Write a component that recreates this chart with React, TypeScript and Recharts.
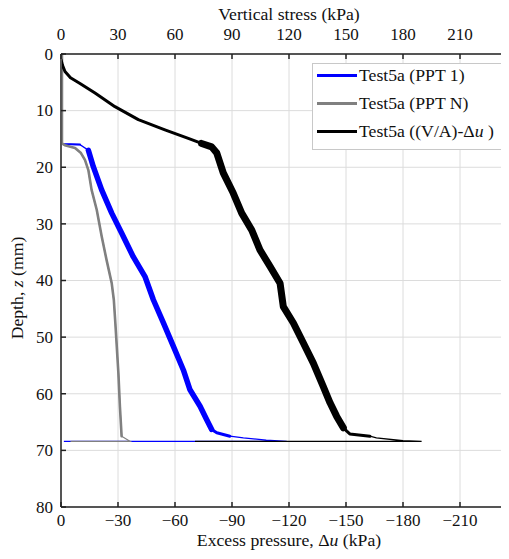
import React from 'react';
import { ComposedChart, Line, XAxis, YAxis, CartesianGrid } from 'recharts';

// ---- tick values ----
const DEPTH_TICKS = [0, 10, 20, 30, 40, 50, 60, 70, 80];
const STRESS_TICKS = [0, 30, 60, 90, 120, 150, 180, 210];

// ---- Test5a (PPT 1): depth z (mm) and |Δu| (kPa) ----
const PPT1_Z = [12.8, 15.9, 16.0, 17.0, 19.9, 24.0, 28.1, 31.6, 35.8, 39.3, 43.4, 47.5, 51.6, 55.8, 59.3, 62.2, 64.6, 66.3, 66.9, 67.5, 67.8, 68.2, 68.4, 68.4];
const PPT1_P = [0, 0, 10, 14.4, 17.0, 21.4, 26.7, 31.9, 38.0, 44.2, 48.6, 53.9, 59.1, 64.4, 67.9, 73.2, 76.7, 79.3, 82.0, 88.9, 96.0, 108.0, 118.8, 1.5];

// ---- Test5a (PPT N) ----
const PPTN_Z = [0, 8, 15.8, 16.1, 16.6, 17.5, 18.7, 20.5, 24.0, 27.5, 32.2, 36.4, 40.5, 43.4, 47.5, 56.3, 62.2, 67.5, 68.4, 68.4];
const PPTN_P = [0.5, 0.5, 0.5, 2.0, 7.4, 10.5, 12.6, 14.4, 16.1, 18.8, 21.4, 24.0, 26.7, 27.8, 28.6, 30.2, 31.0, 31.9, 36.3, 5.0];

// ---- Test5a ((V/A)-Δu) ----
const VA_Z = [1.0, 2.0, 3.1, 4.2, 5.2, 6.9, 9.3, 11.6, 13.4, 14.9, 15.8, 16.4, 17.5, 21.0, 24.6, 28.1, 31.1, 34.6, 37.5, 40.5, 44.6, 47.5, 51.0, 54.6, 58.7, 61.6, 64.0, 66.0, 66.6, 67.1, 67.5, 67.8, 68.3, 68.4, 68.4];
const VA_P = [0, 0.8, 2.1, 5.0, 10.0, 17.9, 28.4, 40.7, 54.7, 67.0, 74.0, 79.3, 82.0, 85.4, 90.7, 95.1, 100.4, 104.7, 110.0, 115.3, 117.0, 122.3, 127.5, 132.8, 138.0, 141.6, 145.1, 148.6, 150.4, 152.0, 162.6, 166.0, 180.0, 189.8, 70.5];

const toPoints = (z: number[], p: number[]) => z.map((zz, i) => ({ z: zz, p: p[i] }));

// thick overlays (index ranges) emulate the noisy, wide traces
const SERIES = [
  { name: 'Test5a (PPT 1)', color: '#0000ff', data: toPoints(PPT1_Z, PPT1_P), overlays: [{ from: 0, to: 3, width: 2 }, { from: 3, to: 18, width: 5.5 }, { from: 17, to: 20, width: 3 }] },
  { name: 'Test5a (PPT N)', color: '#808080', data: toPoints(PPTN_Z, PPTN_P), overlays: [{ from: 0, to: 18, width: 2.6 }] },
  { name: 'Test5a ((V/A)-Δu )', color: '#000000', data: toPoints(VA_Z, VA_P), overlays: [{ from: 0, to: 11, width: 3 }, { from: 10, to: 28, width: 7 }, { from: 27, to: 31, width: 3 }] },
];

const W = 530;
const H = 551;
const PL = 53;
const PT = 54;
const PR = 509;
const PB = 507;
const FONT = '"Liberation Serif", "Times New Roman", Times, serif';
const TXT = '#111';
const TICK_FS = 17;
const TITLE_FS = 17.7;

const BottomTick = (props: any) => {
  const { x, payload } = props;
  const v = payload.value;
  const label = v === 0 ? '0' : '\u2212' + v;
  return (
    <g>
      <line x1={x} x2={x} y1={PB} y2={PB - 5} stroke="#222" strokeWidth={1.5} />
      <text x={x} y={PB + 18.5} textAnchor="middle" style={{ fontFamily: FONT, fontSize: TICK_FS }} fill={TXT}>{label}</text>
    </g>
  );
};

const TopTick = (props: any) => {
  const { x, payload } = props;
  return (
    <g>
      <line x1={x} x2={x} y1={PT} y2={PT + 5} stroke="#222" strokeWidth={1.5} />
      <text x={x} y={PT - 14} textAnchor="middle" style={{ fontFamily: FONT, fontSize: TICK_FS }} fill={TXT}>{String(payload.value)}</text>
    </g>
  );
};

const LeftTick = (props: any) => {
  const { y, payload } = props;
  return (
    <g>
      <line x1={PL} x2={PL + 5} y1={y} y2={y} stroke="#222" strokeWidth={1.5} />
      <text x={PL - 8} y={y + 5.8} textAnchor="end" style={{ fontFamily: FONT, fontSize: TICK_FS }} fill={TXT}>{String(payload.value)}</text>
    </g>
  );
};

export default function App() {
  const lines: React.ReactNode[] = [];
  SERIES.forEach((s, si) => {
    lines.push(
      <Line key={`b${si}`} xAxisId="bottom" yAxisId="d" data={s.data} dataKey="p" stroke={s.color} strokeWidth={1.3}
        dot={false} activeDot={false} isAnimationActive={false} legendType="none" />
    );
    s.overlays.forEach((o, oi) => {
      lines.push(
        <Line key={`o${si}-${oi}`} xAxisId="bottom" yAxisId="d" data={s.data.slice(o.from, o.to)} dataKey="p" stroke={s.color}
          strokeWidth={o.width} strokeLinejoin="round" strokeLinecap="round" dot={false} activeDot={false}
          isAnimationActive={false} legendType="none" />
      );
    });
  });

  return (
    <div style={{ position: 'relative', width: 501, height: H, marginTop: -8, overflow: 'hidden', background: '#fff', fontFamily: FONT }}>
      <ComposedChart layout="vertical" width={W} height={H} margin={{ top: 0, right: W - PR, bottom: H - PB - 40, left: 0 }}
        style={{ fontFamily: FONT }}>
        <CartesianGrid xAxisId="bottom" yAxisId="d" stroke="#dcdcdc" strokeWidth={1} />
        <XAxis xAxisId="bottom" orientation="bottom" type="number" domain={[0, 240]} ticks={STRESS_TICKS} interval={0}
          height={40} allowDataOverflow axisLine={{ stroke: '#222', strokeWidth: 1.5 }} tickLine={false} tick={BottomTick}
          label={{
            content: () => (
              <text x={(PL + PR) / 2} y={545.5} textAnchor="middle" style={{ fontFamily: FONT, fontSize: TITLE_FS }} fill={TXT}>
                Excess pressure, Δ<tspan fontStyle="italic">u</tspan> (kPa)
              </text>
            ),
          }} />
        <XAxis xAxisId="top" orientation="top" type="number" domain={[0, 240]} ticks={STRESS_TICKS} interval={0}
          height={PT} allowDataOverflow axisLine={{ stroke: '#222', strokeWidth: 1.5 }} tickLine={false} tick={TopTick}
          label={{
            content: () => (
              <text x={(PL + PR) / 2} y={19.5} textAnchor="middle" style={{ fontFamily: FONT, fontSize: TITLE_FS }} fill={TXT}>
                Vertical stress (kPa)
              </text>
            ),
          }} />
        <YAxis yAxisId="d" type="number" dataKey="z" domain={[0, 80]} ticks={DEPTH_TICKS} interval={0}
          width={PL} allowDataOverflow axisLine={{ stroke: '#555', strokeWidth: 2 }} tickLine={false} tick={LeftTick}
          label={{
            content: () => (
              <text transform={`translate(15, 288) rotate(-90)`} textAnchor="middle" style={{ fontFamily: FONT, fontSize: TITLE_FS }} fill={TXT}>
                Depth, <tspan fontStyle="italic">z</tspan> (mm)
              </text>
            ),
          }} />
        {lines}
      </ComposedChart>
      <div style={{
        position: 'absolute', left: 304, top: 63, width: 189, height: 85, border: '1px solid #c8c8c8',
        background: '#fff', fontFamily: FONT, fontSize: TITLE_FS, color: TXT,
      }}>
        {SERIES.map((s, i) => (
          <div key={i} style={{ position: 'absolute', left: 4, top: 1 + i * 28, height: 20, display: 'flex', alignItems: 'center', whiteSpace: 'nowrap' }}>
            <span style={{ display: 'inline-block', width: 40, height: 3, background: s.color, marginRight: 2 }} />
            <span>
              {s.name.includes('Δu') ? (<>Test5a ((V/A)-Δ<i>u</i> )</>) : s.name}
            </span>
          </div>
        ))}
      </div>
    </div>
  );
}
